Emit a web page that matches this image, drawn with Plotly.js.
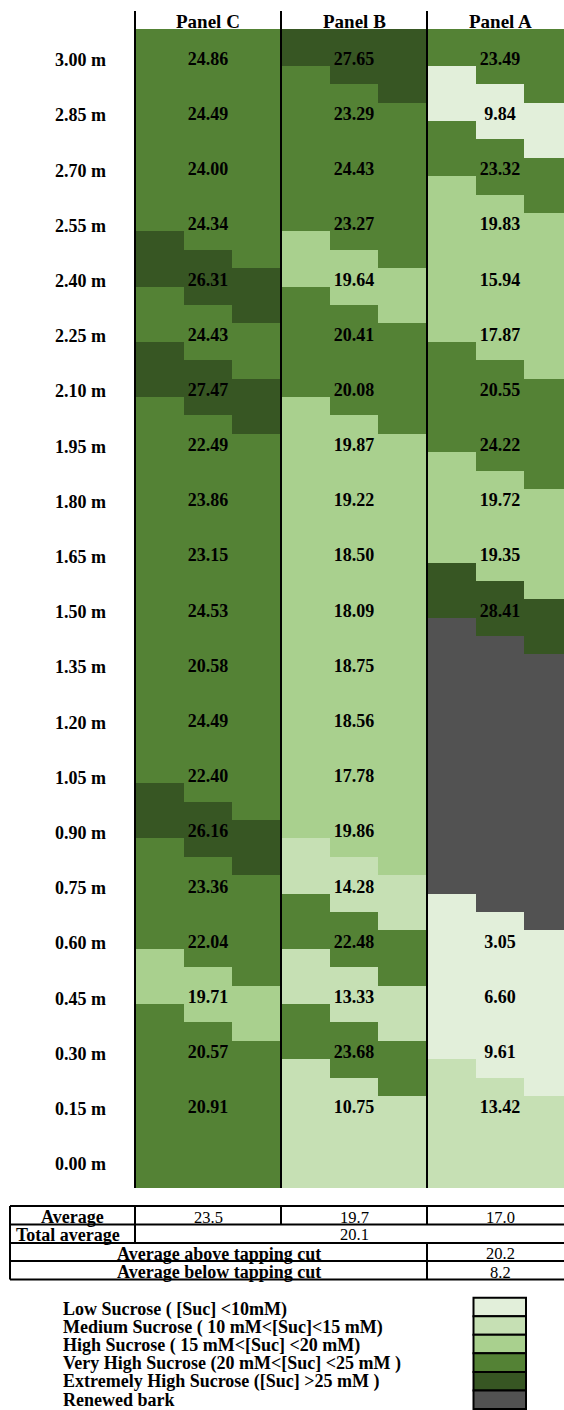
<!DOCTYPE html>
<html>
<head>
<meta charset="utf-8">
<script src="https://cdn.plot.ly/plotly-3.0.1.min.js"></script>
<style>
  html, body { margin: 0; padding: 0; background: #ffffff; overflow: hidden; }
  #chart { width: 564px; height: 1410px; }
</style>
</head>
<body>
<div id="chart"></div>
<script>
// ---------------- DATA ----------------
const heights = ["3.00 m","2.85 m","2.70 m","2.55 m","2.40 m","2.25 m","2.10 m","1.95 m","1.80 m","1.65 m","1.50 m","1.35 m","1.20 m","1.05 m","0.90 m","0.75 m","0.60 m","0.45 m","0.30 m","0.15 m","0.00 m"];
const panelNames = ["Panel C","Panel B","Panel A"];
const panelC = [24.86,24.49,24.00,24.34,26.31,24.43,27.47,22.49,23.86,23.15,24.53,20.58,24.49,22.40,26.16,23.36,22.04,19.71,20.57,20.91,null];
const panelB = [27.65,23.29,24.43,23.27,19.64,20.41,20.08,19.87,19.22,18.50,18.09,18.75,18.56,17.78,19.86,14.28,22.48,13.33,23.68,10.75,null];
const panelA = [23.49,9.84,23.32,19.83,15.94,17.87,20.55,24.22,19.72,19.35,28.41,null,null,null,null,null,3.05,6.60,9.61,13.42,null];
const renewedBarkRowsA = ["1.35 m","1.20 m","1.05 m","0.90 m","0.75 m"];
const baseRowLevel = [3,1,1];            // level of the 0.00 m row (Panel C, B, A)
const levelThresholds = [10,15,20,25];   // mM
const levelLabels = [
  "Low Sucrose ( [Suc] <10mM)",
  "Medium Sucrose ( 10 mM<[Suc]<15 mM)",
  "High Sucrose ( 15 mM<[Suc] <20 mM)",
  "Very High Sucrose (20 mM<[Suc] <25 mM )",
  "Extremely High Sucrose ([Suc] >25 mM )",
  "Renewed bark"
];
const averageLabel = "Average";
const averages = ["23.5","19.7","17.0"];
const totalAverageLabel = "Total average";
const totalAverage = "20.1";
const aboveCutLabel = "Average above tapping cut";
const aboveCut = "20.2";
const belowCutLabel = "Average below tapping cut";
const belowCut = "8.2";

// ---------------- STYLE ----------------
const levelColors = ["#E2EFDA","#C6E0B4","#A9D08E","#548235","#375623","#525252"];
const SERIF = "Liberation Serif, Times New Roman, serif";
const W = 564, H = 1410;
const L = 135, T = 29, PW = 429, PH = 1159;
const SUB = 146 / 3;       // px per sub-column
const FINE = 3;            // fine rows per data row

const panelsData = [panelC, panelB, panelA];

function levelOf(p, i) {
  const v = panelsData[p][i];
  if (v === null) {
    if (p === 2 && renewedBarkRowsA.indexOf(heights[i]) >= 0) return 5;
    return baseRowLevel[p];
  }
  let lv = 0;
  levelThresholds.forEach(t => { if (v >= t) lv++; });
  return lv;
}

const nRows = heights.length;
const nFine = nRows * FINE;
const z = [];
for (let k = 0; k < nFine; k++) {
  const row = [];
  for (let p = 0; p < 3; p++) {
    for (let j = 0; j < 3; j++) {
      let i = Math.floor((k - j + 1) / FINE);
      i = Math.max(0, Math.min(nRows - 1, i));
      row.push(levelOf(p, i));
    }
  }
  z.push(row);
}
const xs = [...Array(9).keys()];
const ys = [...Array(nFine).keys()];

const cs = [];
levelColors.forEach((c, n) => { cs.push([n / 6, c]); cs.push([(n + 1) / 6, c]); });

const heat = {
  type: "heatmap", x: xs, y: ys, z: z,
  zmin: -0.5, zmax: 5.5, colorscale: cs, showscale: false,
  hoverinfo: "skip", xgap: 0, ygap: 0
};

const tx = [], ty = [], tt = [];
for (let p = 0; p < 3; p++) {
  for (let i = 0; i < nRows; i++) {
    const v = panelsData[p][i];
    if (v === null) continue;
    tx.push(p * 3 + 1); ty.push(i * FINE + 1.2); tt.push(v.toFixed(2));
  }
}
const texts = {
  type: "scatter", mode: "text", x: tx, y: ty, text: tt,
  textfont: { family: SERIF, size: 18, color: "#000", weight: "bold" },
  hoverinfo: "skip", cliponaxis: false, showlegend: false
};

const xp = px => (px - L) / PW;
const yp = py => (T + PH - py) / PH;

const annotations = [];
const shapes = [];

// row labels
heights.forEach((h, i) => {
  annotations.push({ xref: "paper", yref: "y", x: xp(108), y: i * FINE + 1.2, text: h,
    xanchor: "right", yanchor: "middle", showarrow: false,
    font: { family: SERIF, size: 18, color: "#000", weight: "bold" } });
});
// panel headers
panelNames.forEach((n, p) => {
  annotations.push({ xref: "paper", yref: "paper", x: xp(L + 146 * p + 73), y: yp(21.5), text: n,
    xanchor: "center", yanchor: "middle", showarrow: false,
    font: { family: SERIF, size: 19, color: "#000", weight: "bold" } });
});
// vertical separator lines
[0, 1, 2].forEach(p => {
  shapes.push({ type: "line", xref: "paper", yref: "paper", x0: xp(L + 146 * p), x1: xp(L + 146 * p),
    y0: 0, y1: yp(11), line: { color: "#000", width: 2 } });
});

// ---------------- TABLE ----------------
const tRows = [1206, 1224.5, 1243, 1261, 1279.5];
const tLeft = 10, tRight = 600;
tRows.forEach(y => shapes.push({ type: "line", xref: "paper", yref: "paper",
  x0: xp(tLeft), x1: xp(tRight), y0: yp(y), y1: yp(y), line: { color: "#000", width: 2 } }));
function vline(x, ya, yb) {
  shapes.push({ type: "line", xref: "paper", yref: "paper", x0: xp(x), x1: xp(x),
    y0: yp(ya), y1: yp(yb), line: { color: "#000", width: 2 } });
}
vline(tLeft, tRows[0], tRows[4]);
vline(135, tRows[0], tRows[2]);
vline(281, tRows[0], tRows[1]);
vline(427, tRows[0], tRows[1]);
vline(427, tRows[2], tRows[4]);

function tText(x, y, s, bold) {
  annotations.push({ xref: "paper", yref: "paper", x: xp(x), y: yp(y), text: s,
    xanchor: "center", yanchor: "middle", showarrow: false,
    font: { family: SERIF, size: bold ? 18 : 16.5, color: "#000", weight: bold ? "bold" : "normal" } });
}
tText(72.5, 1217, averageLabel, true);
averages.forEach((a, p) => tText(L + 146 * p + 73, 1217, a, false));
tText(68, 1235, totalAverageLabel, true);
tText(354, 1235, totalAverage, false);
tText(218.5, 1253.5, aboveCutLabel, true);
tText(500, 1253.5, aboveCut, false);
tText(218.5, 1272, belowCutLabel, true);
tText(500, 1272, belowCut, false);

// ---------------- LEGEND ----------------
const lgTop = 1297.7, lgStep = 18.55;
levelLabels.forEach((lab, n) => {
  const y0 = lgTop + n * lgStep;
  shapes.push({ type: "rect", xref: "paper", yref: "paper",
    x0: xp(473.5), x1: xp(526), y0: yp(y0), y1: yp(y0 + lgStep),
    fillcolor: levelColors[n], line: { color: "#000", width: 2 } });
  annotations.push({ xref: "paper", yref: "paper", x: xp(61), y: yp(1309 + n * 18.2), text: lab,
    xanchor: "left", yanchor: "middle", showarrow: false,
    font: { family: SERIF, size: 18, color: "#000", weight: "bold" } });
});

const layout = {
  width: W, height: H,
  margin: { l: L, r: W - L - PW, t: T, b: H - T - PH, pad: 0 },
  paper_bgcolor: "#ffffff", plot_bgcolor: "#ffffff",
  font: { family: SERIF, color: "#000" },
  showlegend: false,
  xaxis: { range: [-0.5, -0.5 + PW / SUB], visible: false, fixedrange: true },
  yaxis: { range: [nFine - 0.5, -0.5], visible: false, fixedrange: true },
  shapes: shapes, annotations: annotations
};

Plotly.newPlot("chart", [heat, texts], layout, { displayModeBar: false, staticPlot: true });
</script>
</body>
</html>
